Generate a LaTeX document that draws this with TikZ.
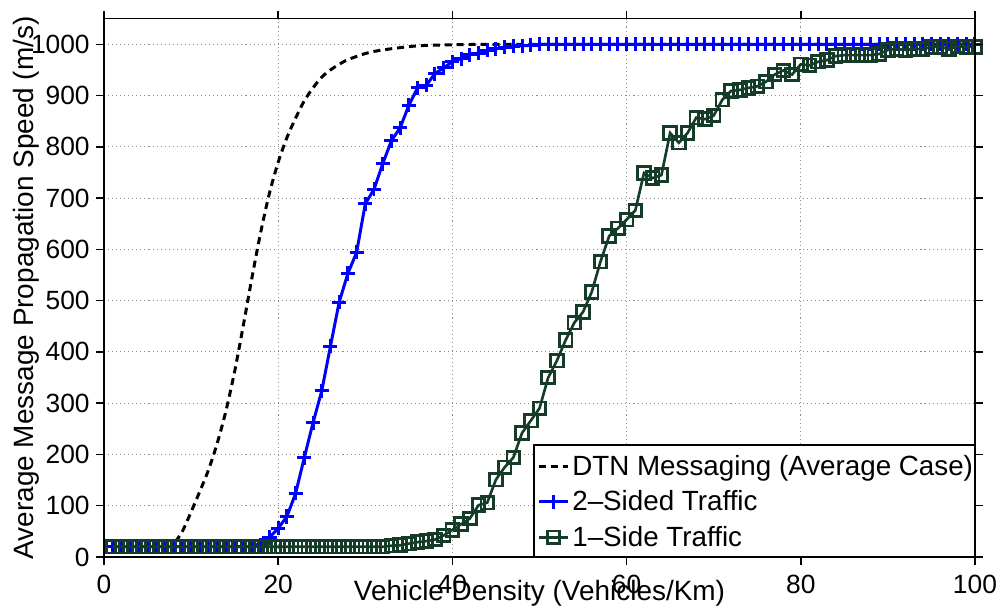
\documentclass[tikz,border=0pt]{standalone}
\usepackage{fontspec}
\setmainfont{Liberation Sans}
\usetikzlibrary{plotmarks}
\definecolor{sidegreen}{RGB}{20,60,40}
\begin{document}
\begin{tikzpicture}[>=stealth,
  gridline/.style={black!45, line width=0.5pt, dash pattern=on 0.6pt off 1.7pt},
  dtn/.style={black, line width=1.7pt, dash pattern=on 4pt off 2.8pt},
  twosided/.style={blue, line width=1.7pt, mark=+, mark size=4pt, mark options={solid, line width=1.7pt}},
  oneside/.style={sidegreen, line width=1.5pt, mark=square, mark size=3.6pt, mark options={solid, line width=1.6pt}},
  ticklabel/.style={inner sep=0pt, font=\fontsize{15}{18}\selectfont},
  leglabel/.style={inner sep=0pt, font=\fontsize{15.8}{19}\selectfont},
  axislabel/.style={inner sep=0pt, font=\fontsize{15.9}{19}\selectfont}]
\useasboundingbox (0,0) rectangle (20,12.26);
\begin{scope}[shift={(2.08,1.12)}, x=0.1742cm, y=0.01026cm]
% grid
\foreach \x in {20,40,60,80}
    \draw[gridline](\x,0)--(\x,1050);
\foreach \y in {100,200,...,1000}
    \draw[gridline](0,\y)--(100,\y);

% curves
\draw[dtn] plot[smooth] coordinates {(8.2,30)(9,50)(10,88)(11,128)(12,170)(13,222)(14,285)(15,362)(16,452)(17,546)(18,634)(19,710)(20,770)(21,818)(22,856)(23,890)(24,915)(25,936)(26,950)(27,961)(28,970)(30,982)(32,989)(36,997)(40,999)(45,1000)(60,1000)(80,1000)(100,1000)};

\draw[twosided] plot[domain=1:17, samples=17](\x,20)
  -- plot coordinates {(18,24)(19,38)(20,56)(21,79)(22,124)(23,194)(24,262)(25,324)(26,411)(27,497)(28,553)(29,594)(30,689)(31,717)(32,767)(33,812)(34,837)(35,881)(36,915)(37,920)(38,943)(39,954)(40,966)(41,972)(42,980)(43,983)(44,988)(45,991)(46,994)(47,996)(48,997)(49,998)}
  -- plot[domain=50:100, samples=51](\x,1000);

\draw[oneside] plot[domain=1:32, samples=32](\x,20)
  -- plot coordinates {(33,22)(34,23)(35,26)(36,29)(37,31)(38,34)(39,42)(40,53)(41,64)(42,75)(43,101)(44,106)(45,151)(46,175)(47,194)(48,242)(49,266)(50,290)(51,350)(52,383)(53,423)(54,457)(55,478)(56,517)(57,576)(58,626)(59,641)(60,658)(61,676)(62,749)(63,739)(64,745)(65,827)(66,808)(67,827)(68,857)(69,854)(70,861)(71,892)(72,909)(73,911)(74,915)(75,918)(76,927)(77,941)(78,949)(79,941)(80,961)(81,959)(82,966)(83,969)(84,977)(85,979)(86,979)(87,979)(88,979)(89,981)(90,989)(91,991)(92,989)(93,991)(94,991)(95,995)(96,995)(97,991)(98,996)(99,995)(100,995)};

% axes
\draw[line width=0.85pt](0,0) rectangle (100,1050);
\foreach \x in {0,20,...,100}
{
    \draw[line width=0.85pt](\x,0)--++(0pt,-0.16cm) (\x,1050)--++(0pt,0.16cm);
    \node[ticklabel, anchor=north](xt\x) at ([yshift=-0.36cm]\x,0){\x};
}
\foreach \y in {0,100,...,1000}
{
    \draw[line width=0.85pt](0,\y)--++(-0.16cm,0pt) (100,\y)--++(0.16cm,0pt);
    \node[ticklabel, anchor=east](yt\y) at ([xshift=-0.28cm]0,\y){\y};
}
\node[axislabel, anchor=base](xlab) at ([yshift=-0.86cm]50,0){Vehicle Density (Vehicles/Km)};
\node[axislabel, anchor=base, rotate=90](ylab) at ([xshift=-1.42cm]0,525){Average Message Propagation Speed (m/s)};

% legend
\draw[line width=0.8pt, fill=white](49.37,0) rectangle (100,218.3);
\draw[dtn](49.94,175.9)--(53.27,175.9);
\draw[twosided, mark indices={2}] plot coordinates {(49.94,107.8)(51.6,107.8)(53.27,107.8)};
\draw[oneside, mark indices={2}] plot coordinates {(49.94,38.4)(51.6,38.4)(53.27,38.4)};
\node[leglabel, anchor=base west](leg1) at (53.73,159.8){DTN Messaging (Average Case)};
\node[leglabel, anchor=base west](leg2) at (53.73,91.6){2–Sided Traffic};
\node[leglabel, anchor=base west](leg3) at (53.73,20){1–Side Traffic};
\end{scope}
\end{tikzpicture}
\end{document}
